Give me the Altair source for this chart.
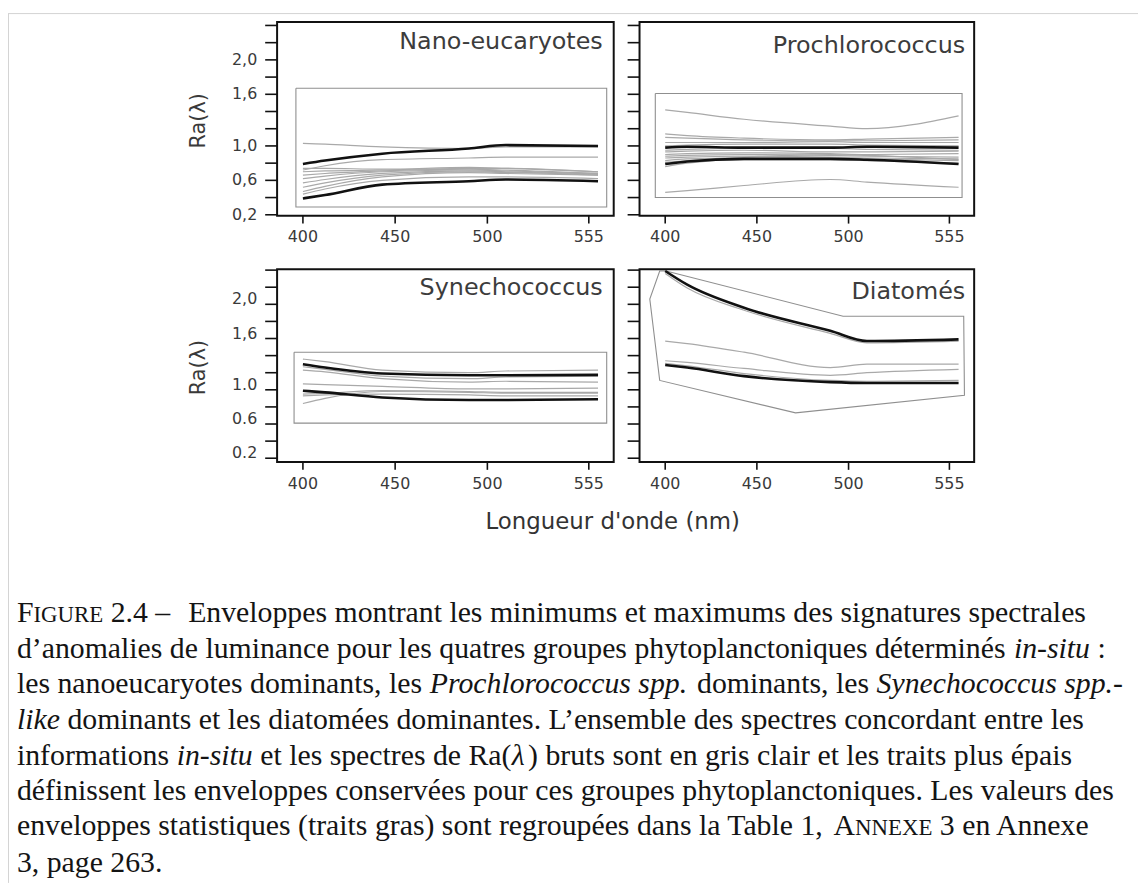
import altair as alt
import pandas as pd

# ---------------- data ----------------
WL = [400, 412, 443, 490, 510, 560]

PANEL_NAMES = ["Nano-eucaryotes", "Prochlorococcus", "Synechococcus", "Diatomés"]

NANO_BOLD_HI = [0.79, 0.83, 0.91, 0.97, 1.01, 1.00]
NANO_BOLD_LO = [0.39, 0.43, 0.55, 0.59, 0.61, 0.59]
NANO_GRAY = [
    [1.03, 1.02, 0.99, 0.97, 0.99, 0.99],
    [0.72, 0.77, 0.84, 0.86, 0.87, 0.87],
    [0.74, 0.74, 0.73, 0.75, 0.74, 0.70],
    [0.70, 0.71, 0.72, 0.74, 0.74, 0.70],
    [0.66, 0.68, 0.71, 0.73, 0.72, 0.68],
    [0.62, 0.65, 0.70, 0.72, 0.71, 0.67],
    [0.57, 0.61, 0.68, 0.71, 0.70, 0.66],
    [0.52, 0.57, 0.66, 0.70, 0.69, 0.68],
    [0.47, 0.53, 0.64, 0.69, 0.68, 0.66],
    [0.44, 0.50, 0.60, 0.64, 0.64, 0.62],
]
NANO_ENV_X = [396.2, 564.7, 564.7, 396.2, 396.2]
NANO_ENV_Y = [1.67, 1.67, 0.29, 0.29, 1.67]

PRO_BOLD_HI = [0.98, 0.99, 0.98, 0.98, 0.99, 0.98]
PRO_BOLD_LO = [0.79, 0.82, 0.85, 0.85, 0.84, 0.79]
PRO_GRAY = [
    [1.42, 1.39, 1.31, 1.23, 1.20, 1.35],
    [0.46, 0.48, 0.54, 0.61, 0.58, 0.52],
    [1.14, 1.12, 1.09, 1.07, 1.08, 1.10],
    [1.10, 1.09, 1.07, 1.06, 1.06, 1.07],
    [1.04, 1.04, 1.04, 1.05, 1.04, 1.04],
    [1.00, 1.01, 1.02, 1.02, 1.01, 1.00],
    [0.95, 0.96, 0.97, 0.97, 0.96, 0.95],
    [0.93, 0.94, 0.95, 0.93, 0.93, 0.94],
    [0.90, 0.91, 0.92, 0.91, 0.90, 0.91],
    [0.88, 0.89, 0.90, 0.89, 0.88, 0.87],
    [0.86, 0.87, 0.88, 0.87, 0.86, 0.85],
    [0.83, 0.85, 0.86, 0.86, 0.85, 0.83],
    [0.76, 0.80, 0.84, 0.84, 0.83, 0.80],
    [0.81, 0.83, 0.87, 0.90, 0.89, 0.84],
]
PRO_ENV_X = [394.6, 561.9, 561.9, 394.6, 394.6]
PRO_ENV_Y = [1.61, 1.61, 0.40, 0.40, 1.61]

SYN_BOLD_HI = [1.30, 1.26, 1.19, 1.17, 1.17, 1.175]
SYN_BOLD_LO = [0.99, 0.97, 0.91, 0.88, 0.88, 0.89]
SYN_GRAY = [
    [1.36, 1.33, 1.23, 1.20, 1.22, 1.23],
    [1.27, 1.24, 1.16, 1.13, 1.15, 1.16],
    [1.23, 1.21, 1.13, 1.09, 1.10, 1.09],
    [1.07, 1.06, 1.04, 1.01, 1.01, 1.02],
    [0.95, 0.96, 0.99, 0.98, 0.97, 0.97],
    [0.84, 0.90, 0.98, 0.97, 0.96, 0.96],
    [0.93, 0.94, 0.95, 0.94, 0.93, 0.93],
]
SYN_ENV_X = [395.2, 564.7, 564.7, 395.2, 395.2]
SYN_ENV_Y = [1.44, 1.44, 0.61, 0.61, 1.44]

DIA_BOLD_HI = [2.39, 2.23, 1.96, 1.69, 1.57, 1.59]
DIA_BOLD_LO = [1.29, 1.26, 1.16, 1.09, 1.08, 1.08]
DIA_GRAY = [
    [2.36, 2.19, 1.93, 1.66, 1.55, 1.57],
    [1.57, 1.54, 1.44, 1.26, 1.30, 1.30],
    [1.34, 1.32, 1.25, 1.17, 1.20, 1.24],
    [1.31, 1.28, 1.19, 1.11, 1.10, 1.11],
]
DIA_ENV_X = [400.5, 497.0, 562.8, 563.2, 471.1, 397.0, 391.6, 397.0, 400.5]
DIA_ENV_Y = [2.39, 1.86, 1.86, 0.935, 0.73, 1.11, 2.06, 2.39, 2.39]

X_TICKS = [400, 450, 500, 555]
X_LABELS = ["400", "450", "500", "555"]
Y_TICKS = [0.2, 0.4, 0.6, 0.8, 1.0, 1.2, 1.4, 1.6, 1.8, 2.0, 2.2, 2.4]
Y_LABELS_TOP = ["0,2", "", "0,6", "", "1,0", "", "", "1,6", "", "2,0", "", ""]
Y_LABELS_BOTTOM = ["0.2", "", "0.6", "", "1.0", "", "", "1,6", "", "2,0", "", ""]

X_TITLE = "Longueur d'onde (nm)"
Y_TITLE = "Ra(λ)"

CAPTION_LINES = [
    [("F", "n"), ("IGURE", "sc"), (" 2.4 –", "n"),
     ("\u2003Enveloppes montrant les minimums et maximums des signatures spectrales", "n")],
    [("d’anomalies de luminance pour les quatres groupes phytoplanctoniques déterminés ", "n"),
     ("in-situ", "i"), (" :", "n")],
    [("les nanoeucaryotes dominants, les ", "n"), ("Prochlorococcus spp.", "i"),
     (" dominants, les ", "n"), ("Synechococcus spp.-", "i")],
    [("like", "i"), (" dominants et les diatomées dominantes. L’ensemble des spectres concordant entre les", "n")],
    [("informations ", "n"), ("in-situ", "i"), (" et les spectres de Ra(", "n"), ("λ", "i"),
     (") bruts sont en gris clair et les traits plus épais", "n")],
    [("définissent les enveloppes conservées pour ces groupes phytoplanctoniques. Les valeurs des", "n")],
    [("enveloppes statistiques (traits gras) sont regroupées dans la Table 1, ", "n"), ("A", "n"),
     ("NNEXE", "sc"), (" 3 en Annexe", "n")],
    [("3, page 263.", "n")],
]

# ---------------- layout (pixels inside the view) ----------------
W, H = 1138, 878
X_DOMAIN = [386, 568.5]
TOP_Y_DOMAIN = [0.19, 2.44]
BOT_Y_DOMAIN = [0.157, 2.41]
LEFT_XR = [271, 610]
RIGHT_XR = [636, 973]
TOP_YR = [206, 11]
BOT_YR = [454, 260]

AX_FONT = "DejaVu Sans"
AX_COLOR = "#111"
LAB_COLOR = "#3a3a3a"
CAP_FONT = "Liberation Serif"
CAP_SIZE = 30
SC_SIZE = 23
CAP_X0 = 9
CAP_BASE = [615, 651, 687, 723, 759, 794, 830, 867]

DUMMY = pd.DataFrame({"a": [1]})

NORMAL_W = {" ": .25, "(": .333, ")": .333, ",": .25, "-": .333, ".": .25, ":": .278, "’": .333,
            "–": .5, "é": .444, "\u2003": .6,
            "A": .722, "E": .611, "F": .556, "G": .722, "I": .333, "L": .611, "N": .722, "P": .556,
            "R": .667, "S": .556, "T": .611, "U": .722, "X": .722,
            "a": .444, "b": .5, "c": .444, "d": .5, "e": .444, "f": .333, "g": .5, "h": .5, "i": .278,
            "j": .278, "k": .5, "l": .278, "m": .778, "n": .5, "o": .5, "p": .5, "q": .5, "r": .333,
            "s": .389, "t": .278, "u": .5, "v": .5, "w": .722, "x": .5, "y": .5, "z": .444}
for d in "0123456789":
    NORMAL_W[d] = .5
ITALIC_W = {" ": .25, "-": .333, ".": .25, "P": .611, "S": .5, "a": .5, "c": .444, "e": .444, "h": .5,
            "i": .278, "k": .444, "l": .278, "n": .5, "o": .5, "p": .5, "r": .389, "s": .389, "t": .278,
            "u": .5, "y": .444, "λ": .55}


def seg_width(s, style):
    table = ITALIC_W if style == "i" else NORMAL_W
    size = SC_SIZE if style == "sc" else CAP_SIZE
    return sum(table.get(c, 0.5) for c in s) * size


def long_df(series_list, prefix):
    rows = []
    for i, s in enumerate(series_list):
        for w, v in zip(WL, s):
            rows.append({"s": f"{prefix}{i}", "wl": w, "v": v})
    return pd.DataFrame(rows)


def panel(name, bold, gray, env_x, env_y, xr, yr, ydom, ylabels, left, title_xy, label_dy):
    xs = alt.Scale(domain=X_DOMAIN, range=xr, nice=False, zero=False)
    ys = alt.Scale(domain=ydom, range=yr, nice=False, zero=False)

    def X(f):
        return alt.X(f, scale=xs, axis=None)

    def Y(f):
        return alt.Y(f, scale=ys, axis=None)

    layers = []

    gray_lines = alt.Chart(long_df(gray, "g")).mark_line(
        stroke="#a9a9a9", strokeWidth=1.2, interpolate="monotone").encode(
        x=X("wl:Q"), y=Y("v:Q"), detail="s:N")
    layers.append(gray_lines)

    env_df = pd.DataFrame({"wl": env_x, "v": env_y, "i": list(range(len(env_x)))})
    env = alt.Chart(env_df).mark_line(stroke="#8f8f8f", strokeWidth=1.1).encode(
        x=X("wl:Q"), y=Y("v:Q"), order="i:Q")
    layers.append(env)

    bold_lines = alt.Chart(long_df(bold, "b")).mark_line(
        stroke="#111", strokeWidth=2.6, interpolate="monotone").encode(
        x=X("wl:Q"), y=Y("v:Q"), detail="s:N")
    layers.append(bold_lines)

    # frame of the panel (drawn through the panel scales)
    frame_df = pd.DataFrame([{"x": X_DOMAIN[0], "x2": X_DOMAIN[1], "y": ydom[0], "y2": ydom[1]}])
    frame = alt.Chart(frame_df).mark_rect(fillOpacity=0, stroke=AX_COLOR, strokeWidth=2).encode(
        x=X("x:Q"), x2="x2:Q", y=Y("y:Q"), y2="y2:Q")
    layers.append(frame)

    # y ticks (outward, to the left)
    yt_df = pd.DataFrame({"t": Y_TICKS, "lab": ylabels})
    y_ticks = alt.Chart(yt_df).mark_rule(stroke=AX_COLOR, strokeWidth=1.6).encode(
        y=Y("t:Q"), x=alt.value(xr[0] - 12), x2=alt.value(xr[0]))
    layers.append(y_ticks)
    if left:
        y_labels = alt.Chart(yt_df).mark_text(
            align="right", baseline="middle", font=AX_FONT, fontSize=16, color=LAB_COLOR,
            dy=label_dy).encode(y=Y("t:Q"), x=alt.value(xr[0] - 20), text="lab:N")
        layers.append(y_labels)
        y_title = alt.Chart(DUMMY).mark_text(
            text=Y_TITLE, angle=270, align="center", baseline="middle", font=AX_FONT, fontSize=21,
            color=LAB_COLOR, x=xr[0] - 79, y=(yr[0] + yr[1]) / 2 + 2)
        layers.append(y_title)

    # x ticks (outward, downward) and labels
    xt_df = pd.DataFrame({"t": X_TICKS, "lab": X_LABELS})
    x_ticks = alt.Chart(xt_df).mark_rule(stroke=AX_COLOR, strokeWidth=1.6).encode(
        x=X("t:Q"), y=alt.value(yr[0]), y2=alt.value(yr[0] + 8))
    x_labels = alt.Chart(xt_df).mark_text(
        align="center", baseline="middle", font=AX_FONT, fontSize=16, color=LAB_COLOR).encode(
        x=X("t:Q"), y=alt.value(yr[0] + 22), text="lab:N")
    layers += [x_ticks, x_labels]

    title = alt.Chart(DUMMY).mark_text(
        text=name, x=title_xy[0], y=title_xy[1], align="right", baseline="alphabetic",
        font=AX_FONT, fontSize=24, color="#3c3c3c")
    layers.append(title)

    return alt.layer(*layers)


tl = panel(PANEL_NAMES[0], [NANO_BOLD_HI, NANO_BOLD_LO], NANO_GRAY, NANO_ENV_X, NANO_ENV_Y,
           LEFT_XR, TOP_YR, TOP_Y_DOMAIN, Y_LABELS_TOP, True, (599, 38), 0)
tr = panel(PANEL_NAMES[1], [PRO_BOLD_HI, PRO_BOLD_LO], PRO_GRAY, PRO_ENV_X, PRO_ENV_Y,
           RIGHT_XR, TOP_YR, TOP_Y_DOMAIN, Y_LABELS_TOP, False, (964, 42), 0)
bl = panel(PANEL_NAMES[2], [SYN_BOLD_HI, SYN_BOLD_LO], SYN_GRAY, SYN_ENV_X, SYN_ENV_Y,
           LEFT_XR, BOT_YR, BOT_Y_DOMAIN, Y_LABELS_BOTTOM, True, (599, 286), -5)
br = panel(PANEL_NAMES[3], [DIA_BOLD_HI, DIA_BOLD_LO], DIA_GRAY, DIA_ENV_X, DIA_ENV_Y,
           RIGHT_XR, BOT_YR, BOT_Y_DOMAIN, Y_LABELS_BOTTOM, False, (964, 290), 0)

x_title = alt.Chart(DUMMY).mark_text(
    text=X_TITLE, x=609, y=522, align="center", baseline="alphabetic",
    font=AX_FONT, fontSize=23, color="#333")

border_v = alt.Chart(DUMMY).mark_rule(stroke="#d4d4d4", strokeWidth=1).encode(
    x=alt.value(0.5), y=alt.value(2.5), y2=alt.value(H))
border_h = alt.Chart(DUMMY).mark_rule(stroke="#d4d4d4", strokeWidth=1).encode(
    x=alt.value(0), x2=alt.value(W), y=alt.value(2.5))

caption = []
for li, line in enumerate(CAPTION_LINES):
    xc = CAP_X0
    for s, style in line:
        txt = s.strip()
        lead = s[: len(s) - len(s.lstrip())]
        if txt:
            caption.append(alt.Chart(DUMMY).mark_text(
                text=txt, x=xc + seg_width(lead, style), y=CAP_BASE[li], align="left",
                baseline="alphabetic", font=CAP_FONT,
                fontSize=SC_SIZE if style == "sc" else CAP_SIZE,
                fontStyle="italic" if style == "i" else "normal", color="#141414"))
        xc += seg_width(s, style)

chart = alt.layer(border_v, border_h, tl, tr, bl, br, x_title, *caption).resolve_scale(
    x="independent", y="independent").properties(
    width=W, height=H, autosize=alt.AutoSizeParams(type="none"), padding=0
).configure_view(strokeWidth=0)

chart.save("out.html", embed_options={"renderer": "svg", "actions": False})
